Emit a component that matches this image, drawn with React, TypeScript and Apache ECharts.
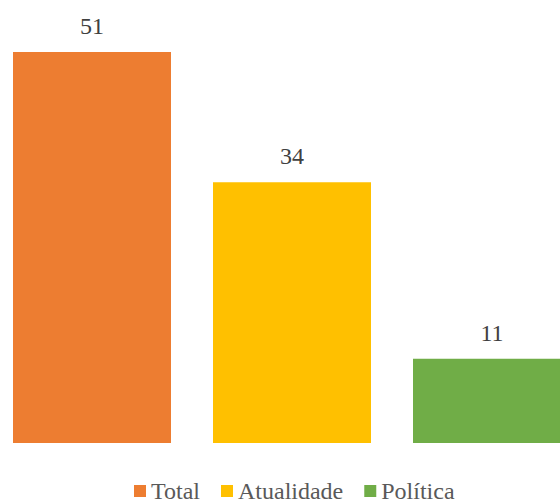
import React, { useEffect, useRef } from "react";
import * as echarts from "echarts";

const seriesNames = ["Total", "Atualidade", "Política"];
const seriesValues = [51, 34, 11];
const seriesColors = ["#ED7D31", "#FFC000", "#70AD47"];
const categories = ["Total", "Atualidade", "Política"];

export default function App() {
  const ref = useRef<HTMLDivElement>(null);
  useEffect(() => {
    if (!ref.current) return;
    const chart = echarts.init(ref.current, undefined, { renderer: "svg" });
    const font = "Liberation Serif";
    chart.setOption({
      animation: false,
      textStyle: { fontFamily: font },
      grid: {
        left: -8,
        width: 600,
        top: 52,
        bottom: 60,
        containLabel: false,
        outerBoundsMode: "none",
      },
      xAxis: {
        type: "category",
        data: categories,
        show: false,
      },
      yAxis: {
        type: "value",
        min: 0,
        max: 51,
        show: false,
        splitLine: { show: false },
      },
      legend: {
        left: 134,
        top: 479,
        padding: 0,
        itemWidth: 12,
        itemHeight: 12,
        itemGap: 21,
        icon: "rect",
        textStyle: {
          fontFamily: font,
          fontSize: 24,
          lineHeight: 22,
          color: "#595959",
          padding: [0, 0, 0, 0],
        },
        data: seriesNames,
      },
      series: seriesNames.map((name, i) => ({
        name,
        type: "bar",
        stack: "all",
        data: categories.map((_, j) => (j === i ? seriesValues[i] : null)),
        barWidth: 158,
        itemStyle: { color: seriesColors[i] },
        label: {
          show: true,
          position: "top",
          distance: 14,
          fontFamily: font,
          fontSize: 24,
          color: "#404040",
        },
      })),
    });
    return () => chart.dispose();
  }, []);
  return (
    <div
      ref={ref}
      style={{ position: "absolute", left: 0, top: 0, width: 560, height: 503 }}
    />
  );
}
